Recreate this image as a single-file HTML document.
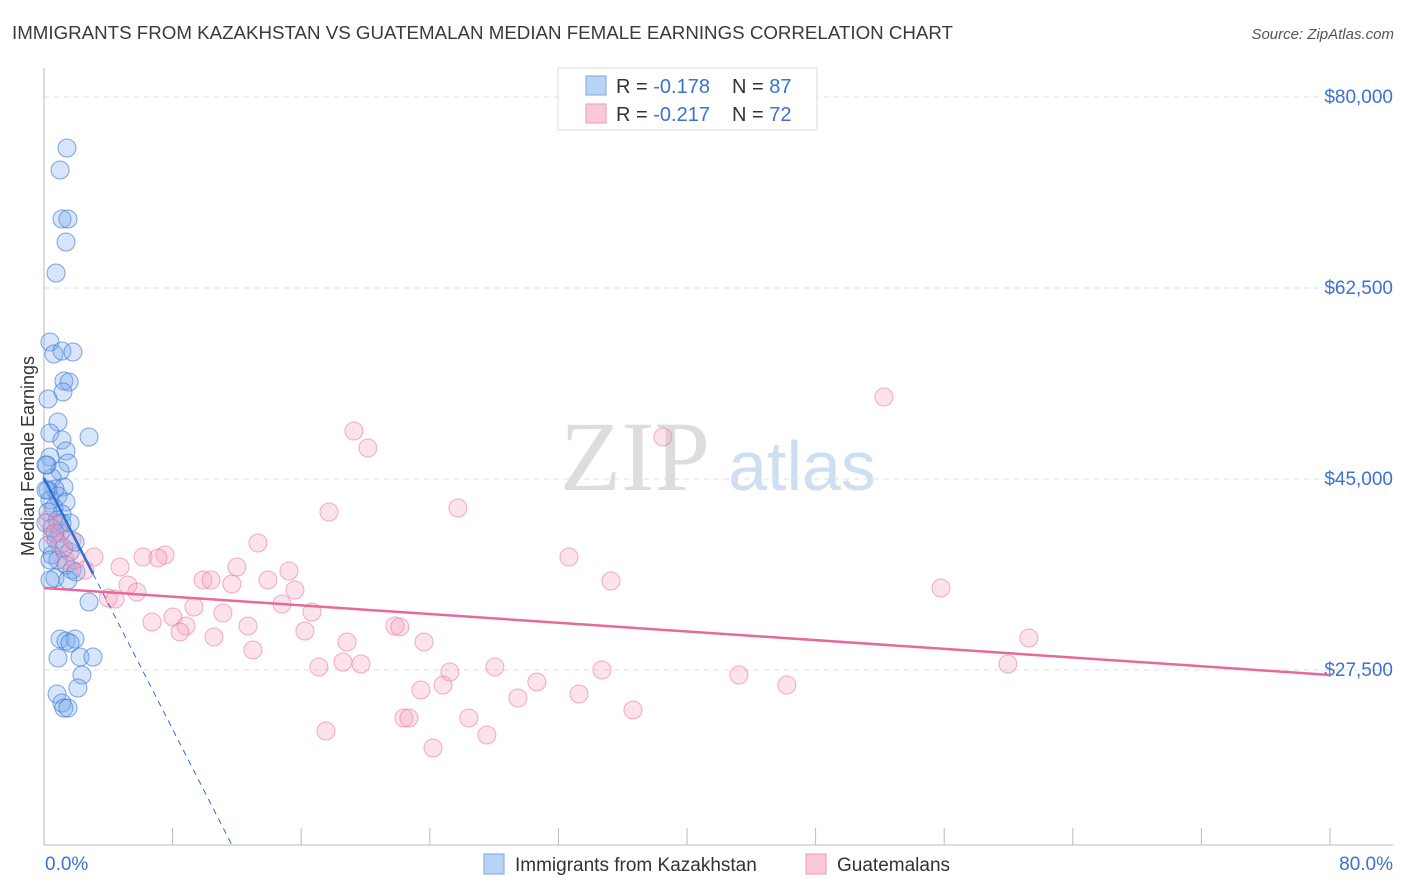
<!DOCTYPE html>
<html><head><meta charset="utf-8">
<style>
body{margin:0;background:#fff;font-family:"Liberation Sans",sans-serif;}
#wrap{position:relative;width:1406px;height:892px;overflow:hidden;}
</style></head>
<body>
<div id="wrap">
<svg id="svg" width="1406" height="892" xmlns="http://www.w3.org/2000/svg">
<text x="12" y="39" font-size="18" fill="#3a3a3a" textLength="941" lengthAdjust="spacingAndGlyphs">IMMIGRANTS FROM KAZAKHSTAN VS GUATEMALAN MEDIAN FEMALE EARNINGS CORRELATION CHART</text>
<text x="1394" y="39" font-size="15" fill="#555" font-style="italic" text-anchor="end">Source: ZipAtlas.com</text>
<text x="34" y="456" font-size="18" fill="#333" text-anchor="middle" transform="rotate(-90 34 456)">Median Female Earnings</text>
<g>
<text x="635" y="490" font-size="100" fill="#ddd" text-anchor="middle" font-family="Liberation Serif,serif">ZIP</text>
<text x="802" y="490" font-size="70" fill="#cfdff2" text-anchor="middle">atlas</text>
</g>
<g id="grid"></g><g id="marks"></g>
<g>
<rect x="558" y="68" width="259" height="62" fill="#fff" stroke="#ddd"/>
<rect x="586" y="76" width="20" height="19" fill="#b8d3f5" stroke="#7aaae6"/>
<rect x="586" y="104" width="20" height="19" fill="#fac9d8" stroke="#ef9ab4"/>
<text x="616" y="93" font-size="20" fill="#333">R = <tspan fill="#3a72d0">-0.178</tspan></text>
<text x="732" y="93" font-size="20" fill="#333">N = <tspan fill="#3a72d0">87</tspan></text>
<text x="616" y="121" font-size="20" fill="#333">R = <tspan fill="#3a72d0">-0.217</tspan></text>
<text x="732" y="121" font-size="20" fill="#333">N = <tspan fill="#3a72d0">72</tspan></text>
</g>
<g>
<rect x="484" y="854" width="20" height="20" fill="#b8d3f5" stroke="#7aaae6"/>
<text x="515" y="871" font-size="19" fill="#333">Immigrants from Kazakhstan</text>
<rect x="806" y="854" width="20" height="20" fill="#fac9d8" stroke="#ef9ab4"/>
<text x="837" y="871" font-size="19" fill="#333">Guatemalans</text>
</g>
</svg>
</div>
<script>
const yTicks=[80000,62500,45000,27500];
const yTickLabels=["$80,000","$62,500","$45,000","$27,500"];
const xTickLabels=["0.0%","80.0%"];
const blueX=[1.43,1.0,1.12,1.49,1.37,0.75,0.37,0.62,1.12,1.8,1.24,1.56,1.18,0.25,0.87,2.8,0.37,1.12,1.37,0.37,1.49,0.19,1.0,0.5,1.24,0.68,0.25,0.87,0.37,1.37,0.62,1.12,0.25,0.81,0.12,0.5,1.0,0.75,0.25,1.24,1.62,1.93,0.5,0.87,1.37,1.74,1.99,0.68,1.49,2.8,1.0,1.37,1.93,1.62,0.87,2.24,3.05,2.36,2.11,0.81,1.12,1.24,1.49,0.37,0.12,0.12,0.68,1.12,1.62,0.37];
const blueY=[75327,73312,68822,68822,66715,63875,57553,56454,56729,56637,53980,53888,52972,52331,50223,48849,49216,48574,47567,47017,46467,46284,45734,45093,44268,44085,43993,43444,43078,42895,42344,41794,41977,41245,40970,40512,40054,39412,38954,38679,38313,39229,38038,37580,37122,36664,36481,35931,35748,33732,30342,30159,30342,29976,28601,28693,28693,27044,25853,25303,24478,24020,24020,35748,46284,43993,40054,40970,40970,37580];
const pinkX=[52.25,19.28,20.15,38.5,25.75,17.73,13.31,32.66,7.53,7.09,3.11,6.16,12.0,15.24,4.73,35.27,55.8,9.89,10.39,13.93,11.69,5.22,5.78,15.61,4.0,4.42,9.33,14.8,16.67,8.02,11.13,6.72,8.83,12.69,8.46,16.23,21.83,22.14,10.57,18.85,23.64,61.27,13.0,17.1,18.6,19.72,28.05,34.71,43.23,59.96,25.25,24.82,30.66,23.45,46.21,33.28,29.48,22.39,22.7,26.43,36.64,17.54,24.2,27.55,0.25,0.5,0.87,1.0,1.31,1.93,2.55,1.74];
const pinkY=[52514,49399,47841,48849,42344,41977,39137,37855,38038,37763,37855,37855,36939,36573,36939,35656,35015,35748,35748,35748,35382,35290,34648,34831,34098,34006,33274,33549,32816,32358,32725,31899,31533,31533,30983,31075,31533,31441,30525,30067,30067,30433,29334,27777,28235,28052,27777,27500,27044,28052,27319,26127,26402,25669,26127,25303,24936,23104,23104,23104,23837,21913,20355,21546,41245,39871,40787,38954,37580,37580,36664,39412];
const blueTrend=[45093,-2877];
const pinkTrend=[35015,-99.6];
const X0=44,X1=1330,Y80=97,Y27=670,BOT=845;
const sx=v=>X0+(v/80)*(X1-X0);
const sy=v=>Y80+(80000-v)*(Y27-Y80)/52500;
const NS="http://www.w3.org/2000/svg";
function mk(t,a,p){const e=document.createElementNS(NS,t);for(const k in a)e.setAttribute(k,a[k]);p.appendChild(e);return e;}
const grid=document.getElementById('grid'),marks=document.getElementById('marks');
yTicks.forEach((v,i)=>{
 const l=mk('line',{x1:X0,x2:1393,y1:sy(v),y2:sy(v),stroke:'#ddd','stroke-dasharray':'5,5'},grid);
 
 
 const t=mk('text',{x:1393,y:sy(v)+6,'font-size':19,fill:'#3a72d0','text-anchor':'end'},grid);
 t.textContent=yTickLabels[i];
 
 
});
const ax=mk('line',{x1:X0,x2:X0,y1:68,y2:BOT,stroke:'#bbb'},grid);


const bx=mk('line',{x1:X0,x2:1393,y1:BOT,y2:BOT,stroke:'#bbb'},grid);


for(let i=0;i<=10;i++){const tk=mk('line',{x1:sx(i*8),x2:sx(i*8),y1:828,y2:BOT,stroke:'#bbb'},grid);
 
 }
[[0,'start',45],[80,'end',1393]].forEach((d,i)=>{const t=mk('text',{x:d[2],y:870,'font-size':19,fill:'#3a72d0','text-anchor':d[1]},grid);t.textContent=xTickLabels[i];
 
 });
blueX.forEach((x,i)=>{const c=mk('circle',{cx:sx(x),cy:sy(blueY[i]),r:9,fill:'rgba(120,170,235,0.3)',stroke:'rgba(60,120,215,0.65)','stroke-width':1},marks);
 
 });
pinkX.forEach((x,i)=>{const c=mk('circle',{cx:sx(x),cy:sy(pinkY[i]),r:9,fill:'rgba(245,160,190,0.3)',stroke:'rgba(235,120,160,0.6)','stroke-width':1},marks);
 
 });
const bf=x=>blueTrend[0]+blueTrend[1]*x, pf=x=>pinkTrend[0]+pinkTrend[1]*x;
const xEnd=(blueTrend[0]-11466)/-blueTrend[1];
let l=mk('line',{x1:sx(0),y1:sy(bf(0)),x2:sx(3.05),y2:sy(bf(3.05)),stroke:'#2f6fd6','stroke-width':2.5},marks);


l=mk('line',{x1:sx(3.05),y1:sy(bf(3.05)),x2:sx(xEnd),y2:sy(bf(xEnd)),stroke:'#2f6fd6','stroke-width':1,'stroke-dasharray':'6,5'},marks);


l=mk('line',{x1:sx(0),y1:sy(pf(0)),x2:sx(80),y2:sy(pf(80)),stroke:'#e8689a','stroke-width':2.5},marks);


</script>
</body></html>
